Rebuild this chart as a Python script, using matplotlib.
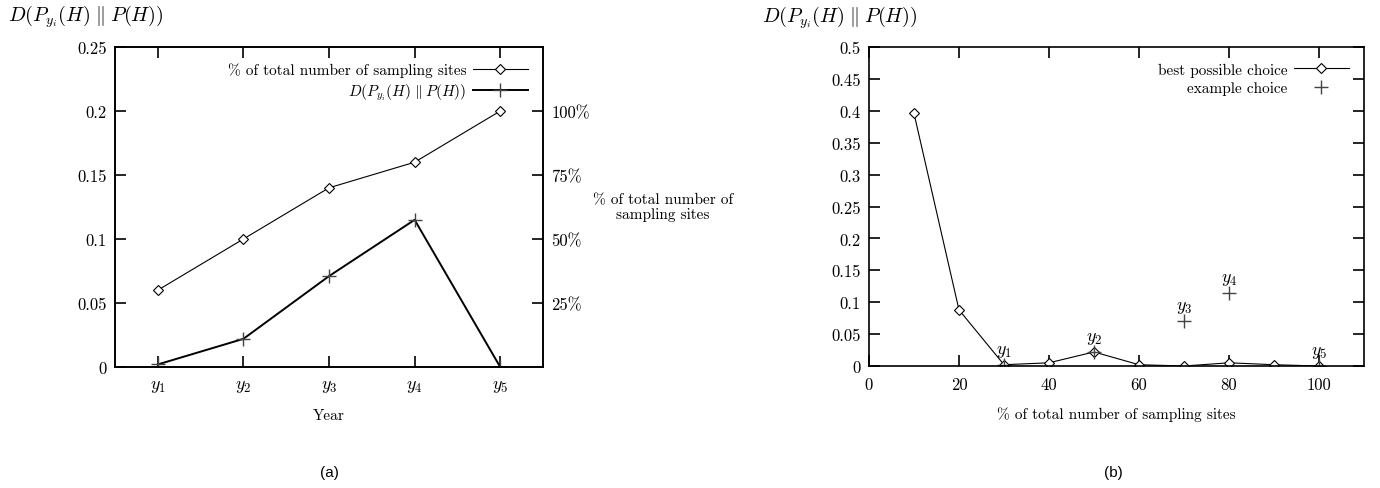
import matplotlib
matplotlib.use("Agg")
import matplotlib.pyplot as plt

plt.rcParams["font.family"] = ["cmr10", "DejaVu Serif"]
plt.rcParams["mathtext.fontset"] = "cm"
plt.rcParams["axes.formatter.use_mathtext"] = True
plt.rcParams["font.size"] = 11

# (a) per-year values
years = ["$y_1$", "$y_2$", "$y_3$", "$y_4$", "$y_5$"]
pct_sites = [30, 50, 70, 80, 100]          # % of total number of sampling sites
divergence = [0.002, 0.022, 0.071, 0.115, 0.0]

# (b) best possible choice over % of sites
best_x = [10, 20, 30, 40, 50, 60, 70, 80, 90, 100]
best_y = [0.396, 0.088, 0.002, 0.005, 0.022, 0.002, 0.0, 0.005, 0.002, 0.0]

DLABEL = r"$D(P_{y_i}(H)\;\|\;P(H))$"
PLUS_COLOR = "#444444"
TICK_FS = 12
LEG_KW = dict(loc="upper right", frameon=False, markerfirst=False,
              handlelength=3.6, handletextpad=0.4, borderaxespad=0.6,
              labelspacing=0.3)

fig = plt.figure(figsize=(13.8, 4.89), dpi=100)

# ---------- (a) ----------
ax1 = fig.add_axes([0.0833, 0.2474, 0.3102, 0.6544])
xs = list(range(1, len(years) + 1))
ax2 = ax1.twinx()
# percentage series drawn on the same scale as the divergence (125% <-> 0.25)
ax1.plot(xs, [p / 500 for p in pct_sites], "-", color="black", lw=0.8,
         marker="D", markersize=5.5, mfc="white", mec="black", mew=0.8,
         label="% of total number of sampling sites")
ax1.plot(xs, divergence, "-", color="black", lw=1.4,
         marker="+", markersize=10, mec=PLUS_COLOR, mew=1.0, label=DLABEL)
ax1.set_xlim(0.5, 5.5)
ax1.set_ylim(0, 0.25)
ax1.set_xticks(xs)
ax1.set_xticklabels(years, fontsize=13)
ax1.set_yticks([0, 0.05, 0.1, 0.15, 0.2, 0.25])
ax1.set_yticklabels(["0", "0.05", "0.1", "0.15", "0.2", "0.25"], fontsize=TICK_FS)
ax1.tick_params(direction="in", length=8, width=1.2, top=True, right=False)
ax1.tick_params(axis="y", pad=6)
ax1.tick_params(axis="x", pad=8)
ax1.set_xlabel("Year", labelpad=10)

ax2.set_ylim(0, 125)
ax2.set_yticks([25, 50, 75, 100])
ax2.set_yticklabels(["25%", "50%", "75%", "100%"], fontsize=TICK_FS)
ax2.tick_params(direction="in", length=8, width=1.2, pad=6)
ax2.set_ylabel("% of total number of\nsampling sites", rotation=0,
               ha="center", va="center", labelpad=0, linespacing=1.1)
ax2.yaxis.set_label_coords(1.28, 0.5)

for ax in (ax1, ax2):
    for s in ax.spines.values():
        s.set_linewidth(1.2)

ax1.legend(**LEG_KW)
fig.text(0.006, 0.965, DLABEL, ha="left", va="center", fontsize=14.5)
fig.text(0.239, 0.033, "(a)", ha="center", va="center",
         family="Liberation Sans", fontsize=11)

# ---------- (b) ----------
bx = fig.add_axes([0.6297, 0.2495, 0.3587, 0.6523])
bx.plot(best_x, best_y, "-", color="black", lw=0.8,
        marker="D", markersize=5.5, mfc="white", mec="black", mew=0.8,
        label="best possible choice")
bx.plot(pct_sites, divergence, linestyle="none",
        marker="+", markersize=10, mec=PLUS_COLOR, mew=1.0,
        label="example choice")
for lab, xv, yv in zip(years, pct_sites, divergence):
    bx.text(xv, yv + 0.022, lab, ha="center", va="center", fontsize=13)
bx.set_xlim(0, 110)
bx.set_ylim(0, 0.5)
bx.set_xticks([0, 20, 40, 60, 80, 100])
bx.set_xticklabels(["0", "20", "40", "60", "80", "100"], fontsize=TICK_FS)
bx.set_yticks([0, 0.05, 0.1, 0.15, 0.2, 0.25, 0.3, 0.35, 0.4, 0.45, 0.5])
bx.set_yticklabels(["0", "0.05", "0.1", "0.15", "0.2", "0.25", "0.3",
                    "0.35", "0.4", "0.45", "0.5"], fontsize=TICK_FS)
bx.tick_params(direction="in", length=8, width=1.2, top=True, right=True)
bx.tick_params(axis="y", pad=6)
bx.tick_params(axis="x", pad=8)
bx.set_xlabel("% of total number of sampling sites", labelpad=10)
for s in bx.spines.values():
    s.set_linewidth(1.2)
bx.legend(**LEG_KW)
fig.text(0.552, 0.963, DLABEL, ha="left", va="center", fontsize=14.5)
fig.text(0.8065, 0.033, "(b)", ha="center", va="center",
         family="Liberation Sans", fontsize=11)

fig.savefig("out.png", dpi=100)
